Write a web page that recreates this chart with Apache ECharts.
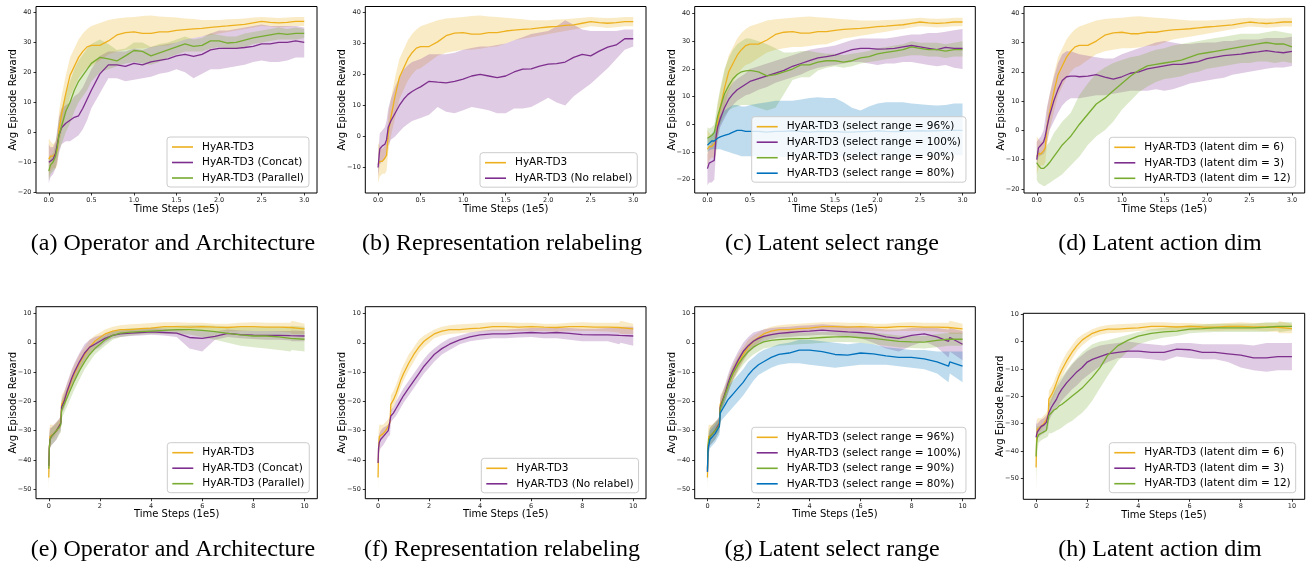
<!DOCTYPE html>
<html><head><meta charset="utf-8">
<script src="https://cdn.jsdelivr.net/npm/echarts@6/dist/echarts.min.js"></script>
<style>html,body{margin:0;padding:0;background:#fff}#c{width:1313px;height:561px}</style>
</head><body><div id="c"></div>
<script>
// ---------- x samples ----------
const xTop = [0,0.02,0.05,0.08,0.1,0.12,0.15,0.2,0.25,0.3,0.35,0.4,0.45,0.5,0.6,0.7,0.8,0.9,1.0,1.1,1.2,1.3,1.4,1.5,1.6,1.7,1.8,1.9,2.0,2.1,2.2,2.3,2.4,2.5,2.6,2.7,2.8,2.9,3.0];
const xBot = [0,0.02,0.05,0.1,0.2,0.3,0.4,0.47,0.5,0.6,0.7,0.8,0.9,1.0,1.2,1.4,1.6,1.8,2.0,2.2,2.5,2.8,3.2,3.6,4.0,4.5,5.0,5.5,6.0,6.5,7.0,7.5,8.0,8.5,9.0,9.45,9.5,10.0];

// ---------- tick labels ----------
const xTicksTop = [0,0.5,1,1.5,2,2.5,3];
const xTicksBot = [0,2,4,6,8,10];
const yTicksA = [-20,-10,0,10,20,30,40];
const yTicksB = [-10,0,10,20,30,40];
const yTicksBot = [-50,-40,-30,-20,-10,0,10];

// ---------- top row: HyAR-TD3 (shared) ----------
const topMean = [-9,-8,-8,-7,-6,1,6,13,19,22,25,27,28.5,29,29,30.5,32.5,33.3,33.5,33,33,33.5,33.5,34,34.3,34.5,34.7,35,35.3,35.5,35.8,36,36.5,37,36.7,36.5,36.7,37,37];
const topLo = [-15,-13,-12,-12,-11,-5,0,6,12,15,18,20,21.5,22,24,26,27,27.5,28,28,28.3,28.8,29,30,31,31.5,32,32.5,33,33.5,34,34.5,35,35.5,35.3,35,35.2,35.5,35.5];
const topHi = [-2,-3,-4,-3,-1,7,12,19,25,28,31,33,34.5,35.5,36.5,37.5,38,38.3,38.5,38.8,39,38.7,38.5,38.3,38,37.8,37.5,37.5,37.5,37.7,37.8,38,38.3,38.5,38.3,38.2,38.3,38.5,38.5];

// (a)
const aConcatMean = [-10,-10,-9,-7,-4,-1,1.5,3,4,5,5.5,8,11,14,19.5,22.5,22.5,22,23,22.5,23.5,24,24.5,25.5,26,25.3,26,27.5,28,28,28,28.3,28.7,29.5,29.5,30,30,30.5,30];
const aConcatLo = [-17,-15,-14,-12,-10,-7,-4,-3,-3,-2,-1,1,4,8,13,18,18,17,17.5,18,18.5,19.5,20,21,20,18,19.5,21,21,21.5,22,22.5,23.5,24,23.5,23.5,24,25,25];
const aConcatHi = [-4,-5,-5,-3,1,5,8,9,10,12,13,15,18,21,25.5,27,27,27,28,27.5,28.5,29,29.5,30,31,31.5,32,33,34,34,34.5,35,35.5,36,35.5,35.5,35.5,35.5,35];
const aParMean = [-13,-11,-10,-8,-5,-1,2,7,10,14,17,19,21,23,25,24.5,23.8,25.5,27.3,27,25.5,26.5,27.5,28.5,29.5,28.7,29,30.5,30.5,29.8,30,30.8,31.5,32,32.5,33,32.7,33,33];
const aParLo = [-16,-14,-13,-12,-9,-6,-4,0,3,7,10,12,14,17,20,21,22,23,23.5,23,22.5,23.5,25,26,27,27,27,28,28.5,28,28,28.5,29.5,30,30.5,31,31,31,31.5];
const aParHi = [-9,-8,-7,-4,0,4,8,13,17,21,24,26,28,29.5,31,29.5,27.5,28,30,30,28.5,29.5,30,31,32,31,31.5,33,32.5,32,32,33,33.5,34,34.5,35,34.5,35,34.5];

// (b)
const bNoRelMean = [-10,-4,-3,-2.5,-1,3,5,7.5,10,12,13.5,14.5,15.3,16,17.8,17.5,17.3,17.8,18.5,19.5,20,19.5,19,19.5,20.8,21.7,21.8,22.7,23.3,23.5,24,25.5,26.5,26,27.5,28.8,29.5,31.5,31.5];
const bNoRelLo = [-13,-9,-8,-7,-5,-3,-1,0,1.5,3,4,5,5.5,6,7,9.5,8,7.5,8.5,9.5,9,8.5,7.5,7.5,9,9,9.5,11,12.5,11,10,13,15,17,19.5,22,25,28,29];
const bNoRelHi = [-6,1,2,3,5,9,12,16,19,21.5,23,24,24.5,25,26.5,26.5,26.5,27,28,28.5,29,29,29.5,30,31,32,33,33.5,34,35.5,37.5,36,34.5,34,34,34,34,34.5,34.5];

// (c)
const c100Mean = [-16,-14,-13.5,-13,-5,-1,2,6,9,11,12.5,13.5,14.5,15.5,16.5,17.5,18.5,19.5,21,22,23,24,24.5,25,26,27,27.5,27.5,27.2,27.3,27.5,28,28.5,28,27.5,27,27.8,27.5,27.5];
const c100Lo = [-22,-21,-21,-20,-10,-5,-1,2,5,7,8.5,9.5,10.5,11,12.5,13.5,15,16,17,18,19.5,20.5,21,21.5,22,22.5,22.5,22,21.5,22,22,22.5,22.5,22,21.5,21,21.5,20.5,20];
const c100Hi = [-11,-8,-7,-6,0,3,6,10,13,15,16.5,17.5,18.5,20,21,22,23,24,25,26,27,27.5,28,28.5,29.5,30.5,31,31,31,31,31.5,32,32.5,32.5,33,33,33.5,34,34.5];
const c90Mean = [-5,-4.5,-4,-3,0,3,6,11,14,16.5,18,19,19.3,19.5,19,17.5,18,19,20,21.5,21.5,22.5,23,23,22.5,23,24,24.5,25.5,26,26.5,27,28,27.5,27,27,26.5,27,27];
const c90Lo = [-8,-7,-7,-6,-5,-2,0,3,5,6,6.5,7,7,7,6,5,6,11,16,17,17,19.5,20.5,21,20.5,21,22,22.5,23,23.5,24,24.5,25,25,24.5,24.5,24,24.5,24.5];
const c90Hi = [-1,-1.5,-1,0,4,8,13,20,24,27,29,30,31,31,30,29,27.5,26,26,26.5,26.5,26,25.5,25.5,25,25.5,26,26.5,27.5,28,28.5,29,30,29.5,29.5,29.5,29,29.5,30];
const c80Mean = [-7.5,-7,-6,-6,-5.5,-5,-4.5,-4,-3.5,-2.8,-2.2,-2.2,-2.5,-2.5,-2.5,-2.8,-2.5,-2.5,-2.3,-2.5,-2.8,-2.5,-2.6,-2.6,-2.8,-2.8,-2.6,-2.5,-2.3,-2.5,-2.6,-2.5,-2.4,-2.3,-2.4,-2.3,-2.2,-2.2,-2.2];
const c80Lo = [-10,-9.5,-9,-9,-9,-9,-9,-9.5,-10,-10.5,-11,-11.5,-11.5,-11.5,-11.5,-11.3,-11.5,-11.8,-11.5,-11.3,-11.5,-11.5,-11.8,-11.6,-11.5,-11.3,-11.5,-11.7,-11.5,-11.4,-11.5,-11.6,-11.5,-11.3,-11.4,-11.5,-11.3,-11.2,-11.2];
const c80Hi = [-5,-4.5,-3.5,-2,0,1.5,3,5,6,7,7,6.5,6.5,7,7.5,8,8.5,8.5,8.5,9,9.5,9.8,9.5,9.5,8,6,5,6.5,7.5,8,8,8,7.5,7.3,7,6.8,7,7.5,7.5];

// (d)
const d3Mean = [-10,-6,-5,-4,-2,1,5,10,14,17,18.3,18.5,18.5,18.3,18.5,19,18.2,17.5,18.3,19.5,20,21,21.5,22,22.5,22.5,23,23.5,24.5,25,25.5,25.8,26,26.5,26.8,27.2,26.8,26.5,27];
const d3Lo = [-12,-9,-8.5,-8,-7,-4,0,3,6,8.5,10,11,11,11,11.5,12,12,12.5,13,13.5,13.5,13.5,14,13.5,14,15,16,16.5,17,17.5,18,19,19.5,20,20.5,21,21.5,21.5,22];
const d3Hi = [-4,-3,-2,0,4,8,12,18,23,26,27,27,26.5,26,25.5,25,24.5,24.5,26,27,28,29,30,30.5,30,29.5,29.5,29.8,30,30,30.5,30.5,31,31,31,31.5,31.5,31.5,32];
const d12Mean = [-11,-12,-13,-13,-12.5,-12,-11,-9,-7,-5,-3.5,-2,0,2,5.5,9,11,13.5,16,18.5,20.5,22,22.5,23,23.5,24,25,26,26.5,27,27.5,28,28.5,29,29.5,30,29.5,29.5,28.5];
const d12Lo = [-17,-18,-18.5,-19,-19,-18.5,-18,-17,-16,-15,-13.5,-12,-10.5,-9,-5,-2,0,3,7,10,13,15,16.5,17.5,18,18.5,19.5,20,21,21.5,22,22.5,23,23,23.5,23.5,23,23.5,23];
const d12Hi = [-7,-7,-8,-7.5,-6,-5,-4,-1,1,3,4.5,6,9,12,16,19.5,21.5,23,24,25,25.5,26.5,27.5,28,29,29.5,30,30.5,31,31.5,32,32.5,33,33,33,33.5,34,33.5,33];

// ---------- bottom row: HyAR-TD3 (shared) ----------
const botMean = [-46,-36,-32,-31.5,-31,-30,-28.5,-27,-21,-19.5,-17.5,-15,-12.5,-10.5,-7,-4,-1.5,0.5,1.8,3,4,4.5,4.5,4.8,5,5.5,5.5,5.3,5.5,5.3,5.2,5.5,5.5,5.3,5.3,5.2,5.5,4.7];
const botLo = [-50.5,-40,-35,-33,-32.5,-31,-30,-29,-24,-22,-20,-17.5,-15,-13,-9.5,-6.5,-3.5,-1.5,0,1.5,2.5,3,3.2,3.5,3.8,4,4,4,4,4,3.8,4,4,4,3.8,3.5,3,3];
const botHi = [-40,-30,-28,-28,-28,-27,-26,-25,-18,-16.5,-14.5,-12,-9.5,-7.5,-4,-1.5,1,2.5,3.5,4.5,5.5,6,6.3,6.5,6.7,7,7,6.8,6.8,6.5,6.5,6.8,7,6.8,6.8,6.8,7.5,6.5];

// (e)
const eConMean = [-42,-36,-33,-32,-31,-30,-28.5,-27.5,-22,-20,-17,-14.5,-12,-10,-6.5,-3.5,-1.5,-0.5,0.5,1.5,2.5,3,3.3,3.5,3.7,3.5,3.3,1.8,1.5,2.2,3.2,2.8,2.6,2.5,2.5,2.4,2.3,2.3];
const eConLo = [-48,-40,-36,-35,-34,-33,-31,-30,-24,-22.5,-19.5,-17,-14.5,-12.5,-9,-6,-4,-2.5,-1.5,0,1.5,2,2.3,2.5,2.7,2.5,2,-2,-3,1,2,1.5,1.3,1,1,0.8,0.5,0.5];
const eConHi = [-36,-31,-29,-29,-28,-27,-26,-25,-19.5,-17,-14,-11.5,-9,-7,-3.5,-0.5,1,2,2.5,3,3.8,4.2,4.5,4.7,5,4.8,4.5,4,4,3.8,4.5,4.2,4,4,4,4,4.2,4];
const eParMean = [-43,-36,-33,-32,-31,-30,-29,-28,-23,-21,-19,-17,-15,-13,-9.5,-6.5,-4,-2,-0.5,1,2.5,3.3,3.6,3.8,4,4.2,4.5,4.5,4.2,3.8,3.2,2.7,2.3,2.3,2,1.5,1.6,1.2];
const eParLo = [-48,-40,-36,-35,-34,-33,-31.5,-30.5,-26,-24,-22,-20,-18,-16,-12.5,-9,-6.5,-4,-2.5,-1,1,2,2.5,2.8,3,3,3,2.8,2,1,0,-1,-1.5,-2,-2.5,-3,-2.5,-3];
const eParHi = [-38,-32,-30,-29,-28.5,-27.5,-26.5,-25.5,-20,-18,-16,-14,-12,-10,-6.5,-3.5,-1.5,0,1.5,2.5,4,4.5,5,5,5.2,5.5,5.8,6,6,5.8,5.5,5.3,5.3,5.5,5.5,5.5,5.8,5.5];

// (f)
const fNoRelMean = [-41,-36,-34,-33,-32,-31,-30,-29.5,-25,-24,-22.5,-21,-19.5,-18,-15.5,-13,-10.5,-8,-6,-4,-2,-0.5,1,2,2.7,3,3,3.3,3.5,3.3,3.5,3.2,2.8,2.7,2.7,2.5,2.6,2.3];
const fNoRelLo = [-44,-39,-37,-36,-35,-33.5,-32,-31.5,-27,-26,-25,-23.5,-22,-20.5,-18,-15.5,-13,-10.5,-8.5,-6.5,-4,-2.5,-0.5,0.5,1,1.5,1.5,1.8,2,1.5,1.5,1,0.5,0.5,0.5,-0.5,0,-1];
const fNoRelHi = [-38,-33,-31,-30,-29,-28.5,-28,-27.5,-23,-22,-20,-18.5,-17,-15.5,-13,-10.5,-8,-5.5,-3.5,-2,0,1.5,2.5,3.5,4,4.5,4.5,4.8,5,5,5.2,5,4.8,4.8,5,5,5.5,5.5];

// (g)
const g100Mean = [-44,-37,-34,-32,-31,-30,-28.5,-27.5,-22,-19.5,-17,-14,-11.5,-9.5,-6,-3,-1,0.5,1.5,2.2,2.8,3.2,3.5,3.8,4,4.3,4,3.7,3.5,3,2,1.5,2.5,3,2,0.5,1.8,-0.5];
const g100Lo = [-48,-40,-37,-35,-34,-33,-31,-30,-24.5,-22,-19.5,-17,-14.5,-12.5,-9,-6,-3.5,-2,-0.5,0.5,1.3,1.8,2,2.3,2.5,2.7,2.5,2,1.5,0,-2,-3,-1,0.5,-1.5,-5,-3,-6];
const g100Hi = [-40,-34,-31,-29,-28,-27,-26,-25,-19,-16.5,-14,-11,-8.5,-6.5,-3,0,2,3.5,4,4.5,5,5.3,5.5,5.8,6,6.3,6,5.7,5.5,5,4.5,4.5,5,5.2,5,4.5,5,4];
const g90Mean = [-43,-36,-33,-32,-31,-30,-29,-28,-22.5,-20,-17.5,-15,-12.5,-10.5,-7.5,-5,-3,-1.5,-0.5,0.3,0.8,1.1,1.3,1.4,1.5,1.8,2,2.1,1.7,1.5,1,0.5,0.3,0.2,0.8,1.2,1.3,1.2];
const g90Lo = [-47,-39,-36,-35,-34,-33,-31.5,-30.5,-25,-22.5,-20,-17.5,-15,-13,-10,-7.5,-5.5,-4,-3,-2,-1.5,-1,-0.8,-0.5,-0.3,0,0.3,0.3,0,-0.5,-1,-1.5,-1.8,-2,-1.5,-1,-1,-1];
const g90Hi = [-39,-33,-30,-29,-28,-27,-26.5,-25.5,-20,-17.5,-15,-12.5,-10,-8,-5,-2.5,-0.5,1,2,2.6,3,3.2,3.4,3.5,3.5,3.7,3.8,3.9,3.5,3.5,3,2.5,2.3,2.3,3,3.3,3.5,3.4];
const g80Mean = [-44,-37,-35,-33,-32,-31,-29.5,-28.5,-24,-22.5,-21,-19.5,-18.5,-17.5,-15.5,-13.5,-11,-9,-7.5,-6.5,-5,-4,-3.5,-2.5,-2.5,-3,-4,-4.2,-3.5,-3.8,-4.5,-5,-5,-5.5,-6.5,-8,-6.5,-8];
const g80Lo = [-48,-41,-38,-36,-35,-34,-32.5,-31.5,-27,-26,-25,-24,-23,-22,-20,-18,-15.5,-13,-11,-10,-8.5,-7.5,-7,-7,-7.5,-8,-8.5,-8,-7.5,-7.5,-7.5,-8,-8.5,-9,-10.5,-13.5,-10.5,-13.5];
const g80Hi = [-40,-33,-32,-30,-29,-28,-26.5,-25.5,-21,-19,-17,-15,-14,-13,-11,-9,-6.5,-5,-3.5,-2.5,-1.5,-0.5,0,1,1,0.5,0,-0.5,0,-0.5,-1.5,-2,-2.5,-2.5,-3,-3,-3,-3];

// (h)
const h3Mean = [-35,-34,-33,-32.5,-31,-30.5,-29.5,-29,-26,-24,-22.5,-21,-19,-17.5,-15,-13,-11,-9.5,-7.5,-6.5,-5.5,-4.5,-4,-3.5,-3.5,-4,-4,-2.8,-3,-4,-4,-4.5,-5,-6,-6,-5.5,-5.5,-5.5];
const h3Lo = [-37,-36,-35,-35,-34,-33.5,-32.5,-32,-29,-27,-25.5,-24,-23,-21.5,-19.5,-17.5,-16,-14,-12.5,-11,-9,-7.5,-6,-6,-6,-6.5,-7,-5.5,-6,-6.5,-6.5,-7.5,-9.5,-10.5,-11,-10.5,-10.5,-10.5];
const h3Hi = [-28,-30,-30,-29.5,-28.5,-28,-27,-26.5,-23,-21,-19,-17,-15.5,-14,-11,-8.5,-6.5,-5,-3.5,-2.5,-1.5,-1,-0.5,0,-0.5,-1,-1.5,-0.5,-0.5,-1,-1,-1,-1,-1.5,-0.5,-0.5,-0.5,-0.5];
const h12Mean = [-42,-37,-35,-34,-33.5,-33,-32.5,-32,-27,-26,-25,-24.5,-23.5,-23,-21.5,-20,-18.5,-17,-15,-13,-9.5,-5,-1.5,0.5,2,3,3.5,3.8,4.5,4.7,5,5,5,5,5.2,5.5,5.2,5.5];
const h12Lo = [-54.5,-45,-40,-37,-36,-35.5,-35,-34.5,-33.5,-33.5,-33,-32.5,-32,-31.5,-30,-29,-27.5,-26,-24,-21.5,-17,-12.5,-7,-3.5,-1,0.5,1.5,2,3,3.3,3.5,3.5,3.5,3.5,3.5,4,3.5,4];
const h12Hi = [-30,-31,-31,-31,-30.5,-30,-30,-29.5,-22,-20,-18,-16,-14.5,-13,-10.5,-8,-6,-4,-2.5,-1,0,0.5,1.5,2.5,3.5,4.5,5,5.5,6,6.2,6.5,6.5,6.5,6.5,7,7,7,7];

// ---------- names ----------
const N0 = 'HyAR-TD3';

// ---------- styles / layout ----------
const COL = {o:'#EDB120', p:'#7E2F8E', g:'#77AC30', b:'#0072BD'};
const topY = 6.5, topH = 186.5, botY = 306.7, botH = 192;
const panels = [
  {grid:{left:36,top:topY,width:281,height:topH}, xs:xTop, xr:[-0.15,3.15], xt:xTicksTop, xf:1, yr:[-20.3,42], yt:yTicksA, lg:[167,137], cap:['(a) Operator and Architecture',173,244],
   curves:[[N0,COL.o,topMean,topLo,topHi],['HyAR-TD3 (Concat)',COL.p,aConcatMean,aConcatLo,aConcatHi],['HyAR-TD3 (Parallel)',COL.g,aParMean,aParLo,aParHi]]},
  {grid:{left:365.3,top:topY,width:280.7,height:topH}, xs:xTop, xr:[-0.15,3.15], xt:xTicksTop, xf:1, yr:[-18.2,41.9], yt:yTicksB, lg:[480,152.7], cap:['(b) Representation relabeling',502,244],
   curves:[[N0,COL.o,topMean,topLo,topHi],['HyAR-TD3 (No relabel)',COL.p,bNoRelMean,bNoRelLo,bNoRelHi]]},
  {grid:{left:694.7,top:topY,width:280.6,height:topH}, xs:xTop, xr:[-0.15,3.15], xt:xTicksTop, xf:1, yr:[-24.8,42.6], yt:yTicksA, lg:[751.7,116.7], cap:['(c) Latent select range',832,244],
   curves:[['HyAR-TD3 (select range = 96%)',COL.o,topMean,topLo,topHi],['HyAR-TD3 (select range = 100%)',COL.p,c100Mean,c100Lo,c100Hi],['HyAR-TD3 (select range = 90%)',COL.g,c90Mean,c90Lo,c90Hi],['HyAR-TD3 (select range = 80%)',COL.b,c80Mean,c80Lo,c80Hi]]},
  {grid:{left:1024,top:topY,width:280.7,height:topH}, xs:xTop, xr:[-0.15,3.15], xt:xTicksTop, xf:1, yr:[-21.4,42.3], yt:yTicksA, lg:[1109.3,137.3], cap:['(d) Latent action dim',1160,244],
   curves:[['HyAR-TD3 (latent dim = 6)',COL.o,topMean,topLo,topHi],['HyAR-TD3 (latent dim = 3)',COL.p,d3Mean,d3Lo,d3Hi],['HyAR-TD3 (latent dim = 12)',COL.g,d12Mean,d12Lo,d12Hi]]},
  {grid:{left:36,top:botY,width:281.3,height:botH}, xs:xBot, xr:[-0.5,10.5], xt:xTicksBot, xf:0, yr:[-53.2,12.3], yt:yTicksBot, lg:[167.3,442.7], cap:['(e) Operator and Architecture',173,550],
   curves:[[N0,COL.o,botMean,botLo,botHi],['HyAR-TD3 (Concat)',COL.p,eConMean,eConLo,eConHi],['HyAR-TD3 (Parallel)',COL.g,eParMean,eParLo,eParHi]]},
  {grid:{left:365.3,top:botY,width:280.7,height:botH}, xs:xBot, xr:[-0.5,10.5], xt:xTicksBot, xf:0, yr:[-53.2,12.3], yt:yTicksBot, lg:[481.3,458.3], cap:['(f) Representation relabeling',502,550],
   curves:[[N0,COL.o,botMean,botLo,botHi],['HyAR-TD3 (No relabel)',COL.p,fNoRelMean,fNoRelLo,fNoRelHi]]},
  {grid:{left:694.7,top:botY,width:280.6,height:botH}, xs:xBot, xr:[-0.5,10.5], xt:xTicksBot, xf:0, yr:[-53.2,12.3], yt:yTicksBot, lg:[751.7,427.3], cap:['(g) Latent select range',832,550],
   curves:[['HyAR-TD3 (select range = 96%)',COL.o,botMean,botLo,botHi],['HyAR-TD3 (select range = 100%)',COL.p,g100Mean,g100Lo,g100Hi],['HyAR-TD3 (select range = 90%)',COL.g,g90Mean,g90Lo,g90Hi],['HyAR-TD3 (select range = 80%)',COL.b,g80Mean,g80Lo,g80Hi]]},
  {grid:{left:1023.3,top:313.3,width:281.4,height:186}, xs:xBot, xr:[-0.5,10.5], xt:xTicksBot, xf:0, yr:[-57.6,10.3], yt:yTicksBot, lg:[1109.3,442.7], cap:['(h) Latent action dim',1160,550],
   curves:[['HyAR-TD3 (latent dim = 6)',COL.o,botMean,botLo,botHi],['HyAR-TD3 (latent dim = 3)',COL.p,h3Mean,h3Lo,h3Hi],['HyAR-TD3 (latent dim = 12)',COL.g,h12Mean,h12Lo,h12Hi]]}
];

const FONT = 'DejaVu Sans';
const grids = [], xAxes = [], yAxes = [], series = [], legends = [], graphics = [];
const minus = v => String(v).replace('-', '\u2212');

panels.forEach((p, gi) => {
  grids.push(Object.assign({show:true, borderColor:'#000', borderWidth:1, backgroundColor:'transparent', containLabel:false}, p.grid));
  xAxes.push({
    type:'value', gridIndex:gi, min:p.xr[0], max:p.xr[1],
    name:'Time Steps (1e5)', nameLocation:'middle', nameGap:11, nameMoveOverlap:false,
    nameTextStyle:{fontFamily:FONT, fontSize:10, color:'#000', verticalAlign:'top'},
    axisLine:{show:false, onZero:false},
    axisTick:{show:true, customValues:p.xt, length:2.5, inside:false, lineStyle:{color:'#000', width:0.8}},
    axisLabel:{customValues:p.xt, margin:4, fontFamily:FONT, fontSize:6.5, color:'#222',
      formatter: v => p.xf ? Number(v).toFixed(1) : String(v)},
    splitLine:{show:false}
  });
  yAxes.push({
    type:'value', gridIndex:gi, min:p.yr[0], max:p.yr[1],
    name:'Avg Episode Reward', nameLocation:'middle', nameGap:17.5, nameMoveOverlap:false,
    nameTextStyle:{fontFamily:FONT, fontSize:10, color:'#000'},
    axisLine:{show:false, onZero:false},
    axisTick:{show:true, customValues:p.yt, length:2.5, inside:false, lineStyle:{color:'#000', width:0.8}},
    axisLabel:{customValues:p.yt, margin:4.5, fontFamily:FONT, fontSize:6.5, color:'#222', formatter: v => minus(v)},
    splitLine:{show:false}
  });
  p.curves.forEach((c, ci) => {
    const [name, color, mean, lo, hi] = c;
    const xs = p.xs;
    series.push({
      type:'custom', name:'band'+gi+'_'+ci, xAxisIndex:gi, yAxisIndex:gi, silent:true, clip:true,
      data: xs.map((x, i) => [x, lo[i], hi[i]]),
      encode:{x:0, y:[1,2]},
      renderItem: (params, api) => {
        if (params.dataIndex !== 0) return null;
        const pts = [];
        for (let i = 0; i < xs.length; i++) pts.push(api.coord([xs[i], lo[i]]));
        for (let i = xs.length - 1; i >= 0; i--) pts.push(api.coord([xs[i], hi[i]]));
        return {type:'polygon', shape:{points:pts}, style:{fill:color, opacity:0.25}};
      }
    });
    series.push({
      type:'line', name:name, xAxisIndex:gi, yAxisIndex:gi, color:color,
      data: xs.map((x, i) => [x, mean[i]]),
      showSymbol:false, symbol:'none', smooth:false,
      lineStyle:{color:color, width:1.3}
    });
  });
  legends.push({
    data: p.curves.map(c => c[0]), orient:'vertical', left:p.lg[0], top:p.lg[1],
    icon:'rect', itemWidth:21, itemHeight:1.6, itemGap:3.5, selectedMode:false,
    padding:[4,5,3,5], backgroundColor:'rgba(255,255,255,0.8)', borderColor:'#cccccc', borderWidth:1, borderRadius:3,
    textStyle:{fontFamily:FONT, fontSize:10.5, lineHeight:12, color:'#000', padding:[0,0,0,4]}
  });
  graphics.push({type:'text', x:p.cap[1], y:p.cap[2],
    style:{text:p.cap[0], font:'24px "Liberation Serif"', fill:'#000', textAlign:'center', textVerticalAlign:'middle'}});
});

const chart = echarts.init(document.getElementById('c'), null, {renderer:'canvas'});
chart.setOption({
  animation:false, backgroundColor:'#fff',
  grid:grids, xAxis:xAxes, yAxis:yAxes, series:series, legend:legends, graphic:graphics
});
</script></body></html>
